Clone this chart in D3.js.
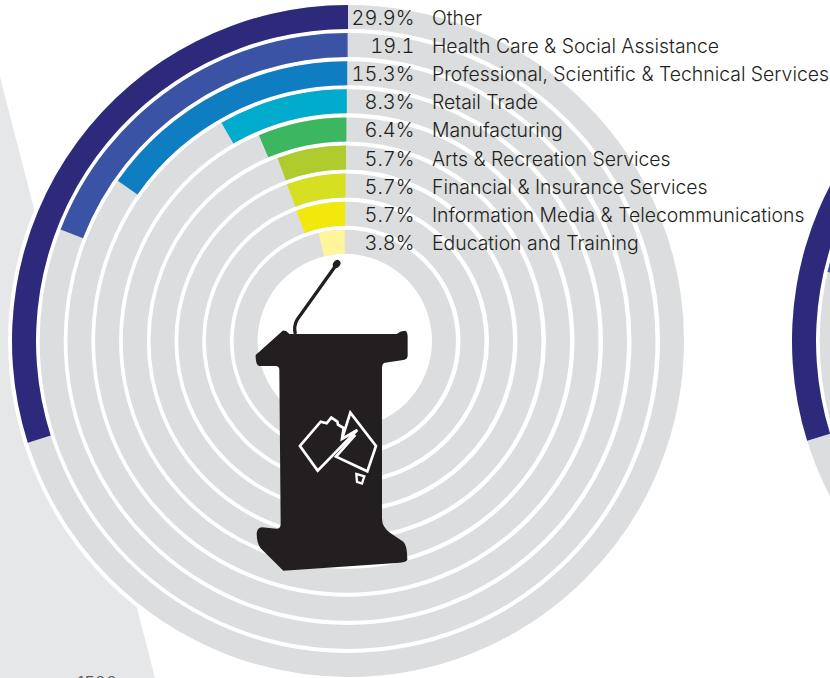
<!DOCTYPE html>
<html>
<head>
<meta charset="utf-8">
<script src="https://cdnjs.cloudflare.com/ajax/libs/d3/7.8.5/d3.min.js"></script>
<style>
html, body { margin: 0; padding: 0; background: #fff; }
svg { display: block; }
text { font-family: Inter, "Liberation Sans", sans-serif; font-weight: 300; fill: #231f20; }
.share { font-variant-numeric: tabular-nums; }
</style>
</head>
<body>
<div id="chart-area"></div>
<script>
// data (share of 100%)
const industries = ["Other", "Health Care & Social Assistance", "Professional, Scientific & Technical Services",
    "Retail Trade", "Manufacturing", "Arts & Recreation Services", "Financial & Insurance Services",
    "Information Media & Telecommunications", "Education and Training"];
const shares = [29.9, 19.1, 15.3, 8.3, 6.4, 5.7, 5.7, 5.7, 3.8];
const shareLabels = ["29.9%", "19.1", "15.3%", "8.3%", "6.4%", "5.7%", "5.7%", "5.7%", "3.8%"];
const ringColours = ["#2e2a7b", "#3a53a4", "#0f7dc2", "#00abcd", "#3db75f", "#b0cb2e", "#d7df23", "#f2e90c", "#fff59a"];

// next chart along, only its two outer rings show at the right edge
const nextShares = [29.8, 21.4];
const nextColours = ["#2e2a7b", "#3a53a4"];

// canvas and chart sizes
const svgWidth = 830,
      svgHeight = 678;
const centre = {x: 348, y: 341},
      nextCentre = {x: 1128, y: 341};
const outerRadius = 336,
      ringStep = 28.1,
      ringWidth = 24;

var svg = d3.select("#chart-area")
    .append("svg")
    .attr("width", svgWidth)
    .attr("height", svgHeight);

// grey wedge behind the rings
svg.append("path")
    .attr("d", d3.line()([[0, 77], [155, 678], [0, 678]]) + "Z")
    .attr("fill", "#e6e7e8");

// scales
var angleScale = d3.scaleLinear().domain([0, 100]).range([0, -2 * Math.PI]);
var ringScale = d3.scaleLinear()
    .domain([0, 9])
    .range([outerRadius, outerRadius - 9 * ringStep]);
// rings are not quite concentric in the original, inner ones sit further left
var ringShift = d3.scaleLinear().domain([0, 8]).range([0, -3.2]);

var arc = d3.arc();

function drawRings(centrePoint, values, colours) {
    var g = svg.append("g")
        .attr("transform", "translate(" + centrePoint.x + "," + centrePoint.y + ")");

    // white halo round the whole thing
    g.append("circle").attr("r", outerRadius + 4).attr("fill", "#fff");

    // grey tracks
    g.selectAll(".track")
        .data(d3.range(9))
        .enter().append("circle")
        .attr("class", "track")
        .attr("cx", function(i){ return ringShift(i); })
        .attr("r", function(i){ return ringScale(i) - ringWidth / 2; })
        .attr("fill", "none")
        .attr("stroke", "#dcddde")
        .attr("stroke-width", ringWidth);

    // coloured bars
    g.selectAll(".bar")
        .data(values)
        .enter().append("path")
        .attr("class", "bar")
        .attr("fill", function(d, i){ return colours[i]; })
        .attr("transform", function(d, i){ return "translate(" + ringShift(i) + ",0)"; })
        .attr("d", function(d, i){
            var r = ringScale(i);
            return arc({
                innerRadius: r - ringWidth,
                outerRadius: r,
                startAngle: 0,
                endAngle: angleScale(d)
            });
        });
}

drawRings(nextCentre, nextShares, nextColours);
drawRings(centre, shares, ringColours);

// clipped figure at the bottom edge of the picture
svg.append("text")
    .attr("x", 77)
    .attr("y", 690)
    .attr("font-size", "18px")
    .style("fill", "#58595b")
    .text("1500");

// labels
var labels = svg.append("g");
var labelY = function(i){ return centre.y - ringScale(i) + 20; };

labels.selectAll(".share")
    .data(shareLabels)
    .enter().append("text")
    .attr("class", "share")
    .attr("x", 414.5)
    .attr("y", function(d, i){ return labelY(i); })
    .attr("text-anchor", "end")
    .attr("font-size", "20px")
    .text(function(d){ return d; });

labels.selectAll(".name")
    .data(industries)
    .enter().append("text")
    .attr("class", "name")
    .attr("x", 432)
    .attr("y", function(d, i){ return labelY(i); })
    .attr("font-size", "19.4px")
    .text(function(d){ return d; });

// lectern, traced in 3x zoom units
var lectern = svg.append("g").attr("transform", "translate(250,240) scale(0.3333)");

lectern.append("path")
    .attr("d", "M258,76 L142,238 Q130,258 136,282")
    .attr("fill", "none")
    .attr("stroke", "#231f20")
    .attr("stroke-width", 10);
lectern.append("ellipse")
    .attr("cx", 260).attr("cy", 72).attr("rx", 13).attr("ry", 10)
    .attr("transform", "rotate(-50 260 72)")
    .attr("fill", "#231f20");

lectern.append("path")
    .attr("fill", "#231f20")
    .attr("d", "M17,345 L98,272 Q108,270 118,282 L440,282 Q452,272 466,272 Q473,276 473,290 L473,348 Q472,358 460,360 "
        + "L405,368 Q396,370 396,385 L396,835 Q396,862 420,878 L460,905 Q472,915 472,960 Q468,966 450,968 L100,992 "
        + "L32,925 Q20,910 20,880 Q22,862 36,862 L80,866 Q92,866 92,852 L88,390 Q88,378 76,378 L28,378 Q16,376 17,345 Z");

// flag and map outline on the front of the lectern
var outline = lectern.append("g")
    .attr("fill", "none")
    .attr("stroke", "#fff")
    .attr("stroke-width", 8)
    .attr("stroke-linejoin", "miter");
outline.append("path")
    .attr("d", "M150,618 L212,545 L230,550 L244,533 L262,545 L264,554 L281,564 L276,597 L322,570 L203,692 Z");
outline.append("path")
    .attr("d", "M276,597 L301,518 L378,618 L352,694 L258,650 L316,585");
outline.append("path")
    .attr("d", "M319,702 L343,709 L336,731 L321,726 Z")
    .attr("stroke-width", 7);
</script>
</body>
</html>
